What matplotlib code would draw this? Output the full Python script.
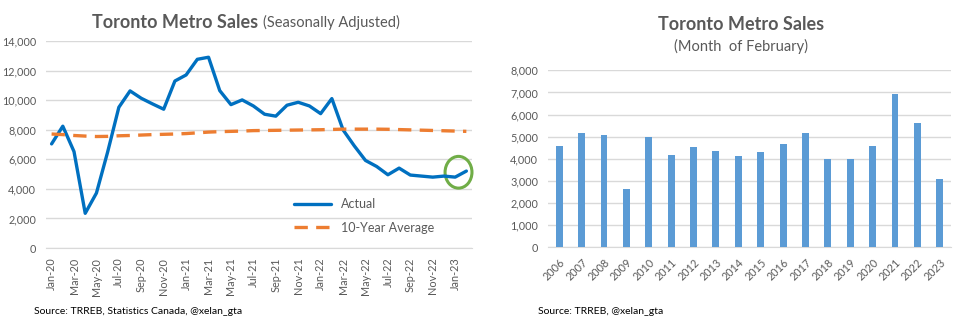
import matplotlib.pyplot as plt
import numpy as np
import pandas as pd
from matplotlib.patches import Ellipse
from matplotlib.ticker import FuncFormatter

plt.rcParams['font.family'] = ['Lato', 'DejaVu Sans']

# left chart: monthly sales, Jan-2020 .. Feb-2023
months = pd.date_range('2020-01-01', periods=38, freq='MS').strftime('%b-%y').tolist()
actual = [7050, 8250, 6530, 2350, 3720, 6500, 9530, 10640, 10140, 9760, 9400, 11310,
          11720, 12780, 12920, 10660, 9710, 10030, 9620, 9060, 8930, 9670, 9870, 9620,
          9100, 10120, 8000, 6920, 5930, 5520, 4960, 5410, 4940, 4870, 4800, 4870,
          4800, 5210]
ten_year_avg = [7720, 7680, 7620, 7580, 7550, 7560, 7600, 7620, 7650, 7680, 7700, 7720,
                7750, 7800, 7850, 7880, 7900, 7920, 7950, 7960, 7970, 7980, 7990, 8000,
                8010, 8030, 8050, 8050, 8050, 8050, 8040, 8020, 8000, 7980, 7960, 7940,
                7920, 7900]

# right chart: February sales by year
years = [str(y) for y in range(2006, 2024)]
feb_sales = [4580, 5170, 5080, 2640, 4990, 4180, 4550, 4350, 4140, 4320, 4670, 5170,
             3990, 3990, 4580, 6930, 5620, 3090]

grey = '#595959'
grid = '#D9D9D9'
fmt = FuncFormatter(lambda v, p: f'{int(v):,}')

fig = plt.figure(figsize=(9.64, 3.29), dpi=100)

# ---- left
ax1 = fig.add_axes([0.0477, 0.2462, 0.4419, 0.6283])
x = np.arange(len(months))
ax1.plot(x, actual, color='#0070C0', lw=2.4, label='Actual', solid_capstyle='round')
ax1.plot(x, ten_year_avg, color='#ED7D31', lw=2.4, ls=(0, (4, 2.5)), label='10-Year Average')
ax1.add_patch(Ellipse((36.3, 5130), 2.4, 2150, fill=False, ec='#70AD47', lw=2.2,
                      clip_on=False))
ax1.set_xlim(-0.5, 37.5)
ax1.set_ylim(0, 14000)
ax1.set_yticks(range(0, 14001, 2000))
ax1.yaxis.set_major_formatter(fmt)
ax1.set_xticks(x[::2])
ax1.set_xticklabels(months[::2], rotation=90)
ax1.legend(loc='center left', bbox_to_anchor=(0.555, 0.155), frameon=False,
           fontsize=9, handlelength=3.0, labelspacing=0.9, labelcolor=grey)

# ---- right
ax2 = fig.add_axes([0.5685, 0.2483, 0.418, 0.538])
ax2.bar(np.arange(len(years)), feb_sales, width=0.31, color='#5B9BD5', zorder=3)
ax2.set_xlim(-0.5, len(years) - 0.5)
ax2.set_ylim(0, 8000)
ax2.set_yticks(range(0, 8001, 1000))
ax2.yaxis.set_major_formatter(fmt)
ax2.set_xticks(np.arange(len(years)))
ax2.set_xticklabels(years, rotation=45, ha='right', rotation_mode='anchor')

for ax in (ax1, ax2):
    for s in ('top', 'right', 'left'):
        ax.spines[s].set_visible(False)
    ax.spines['bottom'].set_color(grid)
    ax.yaxis.grid(True, color=grid, lw=1)
    ax.set_axisbelow(True)
    ax.tick_params(axis='both', length=0, labelsize=7.8, colors=grey, pad=7)

# titles
fig.text(258 / 964, 1 - 22 / 329, 'Toronto Metro Sales', ha='right', va='center',
         fontsize=13, fontweight='bold', color=grey)
fig.text(263 / 964, 1 - 22 / 329, '(Seasonally Adjusted)', ha='left', va='center',
         fontsize=10.5, color=grey)
fig.text(741 / 964, 1 - 25 / 329, 'Toronto Metro Sales', ha='center', va='center',
         fontsize=13, fontweight='bold', color=grey)
fig.text(741 / 964, 1 - 46 / 329, '(Month  of February)', ha='center', va='center',
         fontsize=10.5, color=grey)

fig.text(34 / 964, 1 - 311 / 329, 'Source: TRREB, Statistics Canada, @xelan_gta',
         ha='left', va='center', fontsize=7.5, color='black')
fig.text(538 / 964, 1 - 311 / 329, 'Source: TRREB, @xelan_gta',
         ha='left', va='center', fontsize=7.5, color='black')

fig.savefig('out.png', dpi=100)
